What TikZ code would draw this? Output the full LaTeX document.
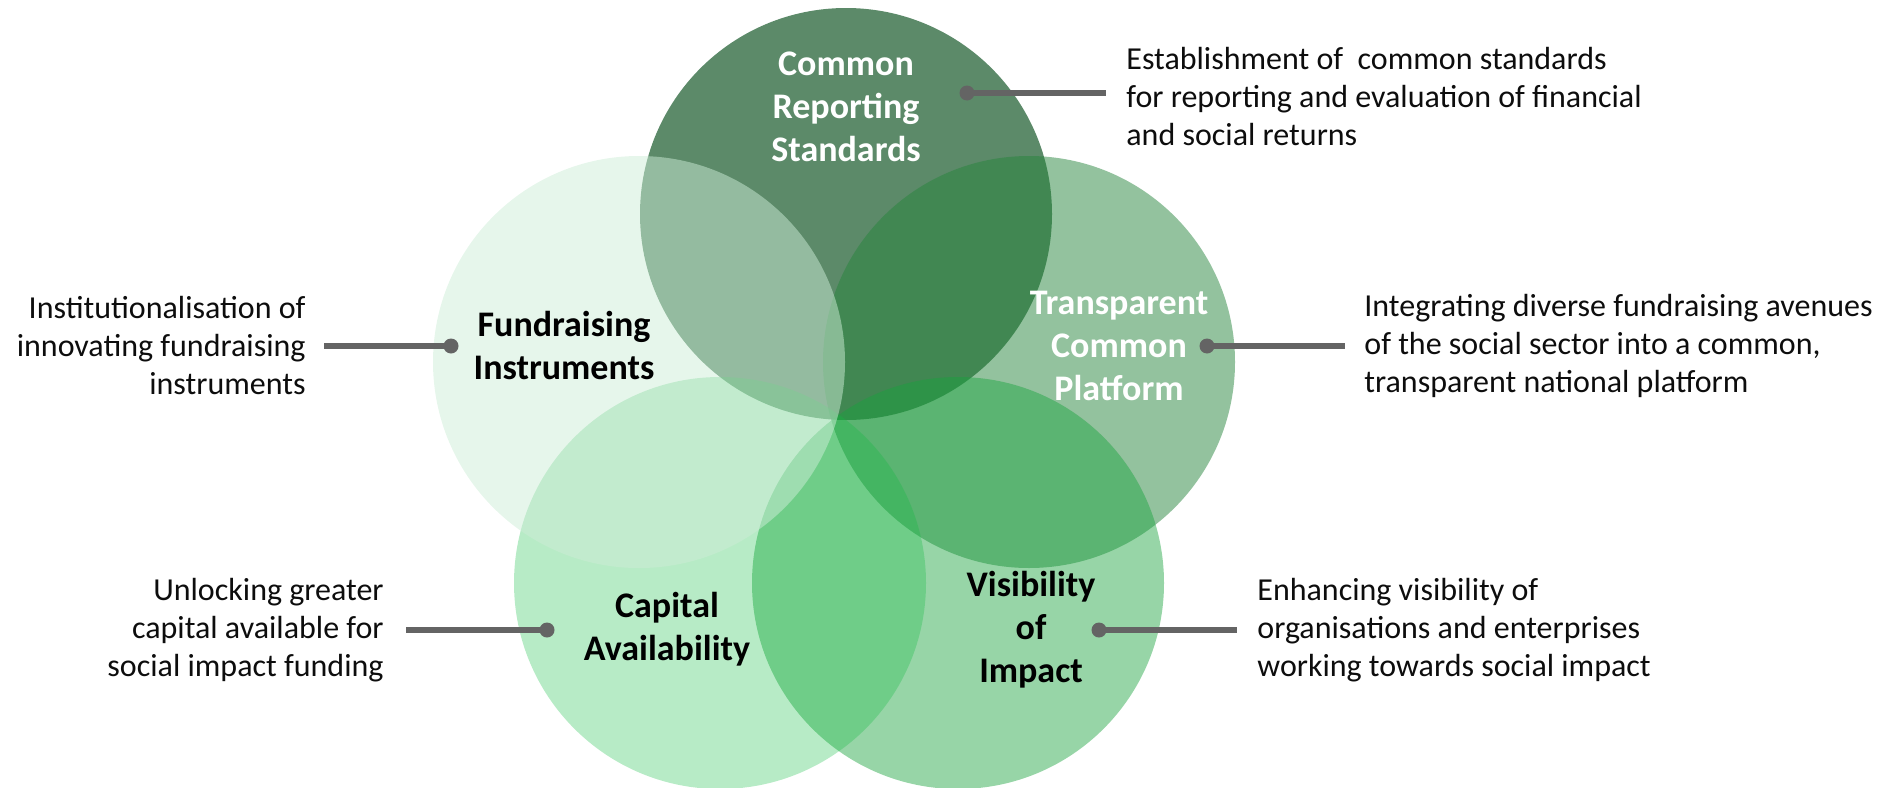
\documentclass[tikz,border=0pt]{standalone}
\usepackage{fontspec}
\setmainfont{Carlito}
\definecolor{cT}{RGB}{92,138,105}
\definecolor{cP}{RGB}{39,133,61}
\definecolor{cV}{RGB}{24,162,60}
\definecolor{cC}{RGB}{18,188,65}
\definecolor{cF}{RGB}{205,237,215}
\definecolor{conn}{RGB}{100,100,100}
\definecolor{txt}{RGB}{13,13,13}
\tikzset{
  lbl/.style={inner sep=0pt, align=center, font=\bfseries\fontsize{18}{21.5}\selectfont},
  descl/.style={inner sep=0pt, align=left, anchor=west, text=txt, font=\fontsize{16}{19}\selectfont},
  descr/.style={inner sep=0pt, align=right, anchor=east, text=txt, font=\fontsize{16}{19}\selectfont},
  dotnode/.style={circle, fill=conn, inner sep=0pt, minimum size=7.5pt},
  connline/.style={draw=conn, line width=3pt}
}
\begin{document}
\begin{tikzpicture}[x=0.5pt,y=-0.5pt]
\useasboundingbox (0,0) rectangle (1895,787);
% circles
\fill[cT] (846,214) circle[radius=103pt];
\fill[cP, fill opacity=0.5] (1029,362) circle[radius=103pt];
\fill[cV, fill opacity=0.45] (958,583) circle[radius=103pt];
\fill[cC, fill opacity=0.3] (720,583) circle[radius=103pt];
\fill[cF, fill opacity=0.5] (639,362) circle[radius=103pt];
% labels
\node[lbl, text=white] (lT) at (846,107) {Common\\Reporting\\Standards};
\node[lbl, text=white] (lP) at (1119,346) {Transparent\\Common\\Platform};
\node[lbl, text=black] (lF) at (564,345) {Fundraising\\Instruments};
\node[lbl, text=black] (lC) at (667,629) {Capital\\Availability};
\node[lbl, text=black] (lV) at (1031,630) {Visibility\\of\\Impact};
% descriptions
\node[descl] (dT) at (1126,97) {Establishment of\ \ common standards\\for reporting and evaluation of financial\\and social returns};
\node[descr] (dF) at (306,346) {Institutionalisation of\\innovating fundraising\\instruments};
\node[descl] (dP) at (1364,346) {Integrating diverse fundraising avenues\\of the social sector into a common,\\transparent national platform};
\node[descr] (dC) at (384,630) {Unlocking greater\\capital available for\\social impact funding};
\node[descl] (dV) at (1257,630) {Enhancing visibility of\\organisations and enterprises\\working towards social impact};
% connectors
\node[dotnode] (pT) at (967,93) {};
\coordinate (eT) at (1106,93);
\draw[connline] (pT.center) -- (eT);
\node[dotnode] (pF) at (451,346) {};
\coordinate (eF) at (324,346);
\draw[connline] (pF.center) -- (eF);
\node[dotnode] (pP) at (1207,346) {};
\coordinate (eP) at (1345,346);
\draw[connline] (pP.center) -- (eP);
\node[dotnode] (pC) at (547,630) {};
\coordinate (eC) at (406,630);
\draw[connline] (pC.center) -- (eC);
\node[dotnode] (pV) at (1099,630) {};
\coordinate (eV) at (1237,630);
\draw[connline] (pV.center) -- (eV);
\end{tikzpicture}
\end{document}
